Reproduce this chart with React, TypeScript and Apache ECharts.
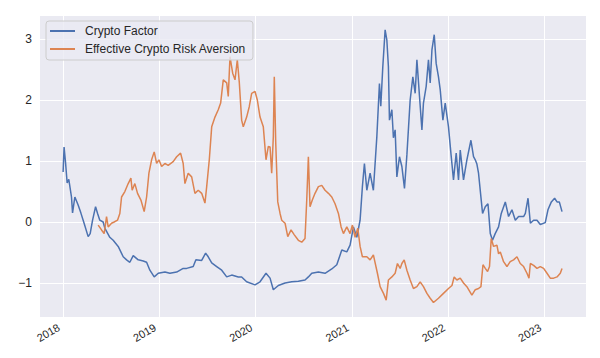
import React, { useEffect, useRef } from 'react';
import * as echarts from 'echarts';

const seriesNames = ['Crypto Factor', 'Effective Crypto Risk Aversion'];
const yearTicks = [2018, 2019, 2020, 2021, 2022, 2023];
const valueTicks = [-1, 0, 1, 2, 3];

const blueYears = [
  2018.0, 2018.01, 2018.025, 2018.042, 2018.059, 2018.087, 2018.098, 2018.122, 2018.156, 2018.184,
  2018.218, 2018.26, 2018.281, 2018.306, 2018.337, 2018.358, 2018.381, 2018.416, 2018.433, 2018.485,
  2018.52, 2018.572, 2018.624, 2018.659, 2018.693, 2018.728, 2018.78, 2018.832, 2018.867, 2018.901,
  2018.946, 2018.988, 2019.057, 2019.109, 2019.179, 2019.247, 2019.283, 2019.351, 2019.379, 2019.439,
  2019.48, 2019.507, 2019.543, 2019.595, 2019.647, 2019.699, 2019.751, 2019.819, 2019.854, 2019.906,
  2019.993, 2020.045, 2020.107, 2020.149, 2020.183, 2020.235, 2020.305, 2020.374, 2020.443, 2020.512,
  2020.547, 2020.582, 2020.651, 2020.72, 2020.79, 2020.842, 2020.894, 2020.946, 2020.98, 2021.015,
  2021.05, 2021.084, 2021.108, 2021.129, 2021.154, 2021.188, 2021.222, 2021.258, 2021.285, 2021.299,
  2021.32, 2021.344, 2021.362, 2021.378, 2021.389, 2021.414, 2021.43, 2021.448, 2021.466, 2021.493,
  2021.518, 2021.545, 2021.57, 2021.604, 2021.632, 2021.656, 2021.674, 2021.701, 2021.726, 2021.742,
  2021.77, 2021.794, 2021.812, 2021.83, 2021.854, 2021.874, 2021.898, 2021.916, 2021.944, 2021.968,
  2022.002, 2022.027, 2022.054, 2022.082, 2022.106, 2022.124, 2022.158, 2022.193, 2022.235, 2022.262,
  2022.28, 2022.297, 2022.314, 2022.342, 2022.356, 2022.384, 2022.412, 2022.436, 2022.459, 2022.487,
  2022.522, 2022.55, 2022.592, 2022.626, 2022.661, 2022.696, 2022.73, 2022.782, 2022.8, 2022.828,
  2022.852, 2022.886, 2022.921, 2022.955, 2023.007, 2023.035, 2023.07, 2023.104, 2023.129, 2023.153,
  2023.181,
];
const blueValues = [
  0.82, 1.23, 0.98, 0.64, 0.7, 0.41, 0.15, 0.41, 0.28, 0.15,
  -0.02, -0.24, -0.19, 0.03, 0.25, 0.14, 0.03, 0.0, -0.1, -0.25,
  -0.3, -0.4, -0.57, -0.62, -0.66, -0.55, -0.62, -0.64, -0.66, -0.79,
  -0.9, -0.84, -0.82, -0.84, -0.82, -0.76, -0.76, -0.73, -0.62, -0.63,
  -0.51, -0.57, -0.67, -0.73, -0.79, -0.9, -0.87, -0.9, -0.9, -0.98,
  -1.03, -0.98, -0.84, -0.92, -1.11, -1.04, -1.0, -0.98, -0.97, -0.95,
  -0.9, -0.84, -0.82, -0.84, -0.77, -0.7, -0.46, -0.49, -0.38, -0.08,
  -0.25, 0.03, 0.58, 0.96, 0.52, 0.8, 0.52, 1.4, 2.27, 1.9,
  2.55, 3.15, 2.98, 2.55, 1.67, 1.84, 1.38, 1.51, 0.74, 1.07,
  0.91, 0.55, 1.1, 2.0, 2.38, 2.11, 2.66, 2.06, 1.51, 1.95,
  2.22, 2.66, 2.28, 2.82, 3.07, 2.6, 2.38, 2.17, 1.67, 1.95,
  1.56, 1.13, 0.69, 1.13, 0.69, 1.18, 0.69, 1.02, 1.34, 1.07,
  1.02, 0.95, 0.8, 0.36, 0.14, 0.25, 0.3, -0.19, -0.3, -0.19,
  -0.08, 0.14, 0.33, 0.09, 0.2, 0.03, 0.09, 0.09, 0.14, 0.39,
  -0.02, 0.03, 0.03, -0.04, -0.01, 0.2, 0.33, 0.39, 0.33, 0.33,
  0.17,
];

const orangeYears = [
  2018.364, 2018.399, 2018.426, 2018.451, 2018.468, 2018.503, 2018.53, 2018.565, 2018.589, 2018.607,
  2018.641, 2018.676, 2018.704, 2018.717, 2018.745, 2018.773, 2018.808, 2018.842, 2018.867, 2018.891,
  2018.919, 2018.946, 2018.971, 2018.995, 2019.023, 2019.057, 2019.091, 2019.143, 2019.179, 2019.22,
  2019.247, 2019.265, 2019.299, 2019.335, 2019.369, 2019.403, 2019.439, 2019.473, 2019.491, 2019.518,
  2019.543, 2019.577, 2019.611, 2019.636, 2019.663, 2019.699, 2019.715, 2019.733, 2019.761, 2019.785,
  2019.809, 2019.83, 2019.854, 2019.871, 2019.906, 2019.933, 2019.958, 2019.993, 2020.017, 2020.045,
  2020.079, 2020.107, 2020.131, 2020.149, 2020.166, 2020.183, 2020.193, 2020.208, 2020.229, 2020.253,
  2020.27, 2020.305, 2020.333, 2020.367, 2020.401, 2020.443, 2020.478, 2020.512, 2020.53, 2020.547,
  2020.564, 2020.588, 2020.616, 2020.651, 2020.686, 2020.72, 2020.755, 2020.79, 2020.824, 2020.859,
  2020.887, 2020.911, 2020.946, 2020.98, 2021.004, 2021.032, 2021.06, 2021.084, 2021.108, 2021.154,
  2021.188, 2021.222, 2021.264, 2021.292, 2021.327, 2021.355, 2021.378, 2021.414, 2021.448, 2021.472,
  2021.5, 2021.518, 2021.542, 2021.57, 2021.604, 2021.638, 2021.674, 2021.708, 2021.742, 2021.778,
  2021.812, 2021.846, 2021.898, 2021.95, 2022.002, 2022.038, 2022.061, 2022.089, 2022.124, 2022.158,
  2022.193, 2022.245, 2022.28, 2022.314, 2022.339, 2022.36, 2022.384, 2022.408, 2022.428, 2022.446,
  2022.47, 2022.505, 2022.522, 2022.54, 2022.574, 2022.609, 2022.643, 2022.678, 2022.713, 2022.747,
  2022.782, 2022.817, 2022.838, 2022.852, 2022.886, 2022.921, 2022.955, 2022.99, 2023.025, 2023.059,
  2023.094, 2023.129, 2023.163, 2023.181,
];
const orangeValues = [
  -0.05, -0.13, -0.19, 0.09, -0.08, -0.02, 0.0, 0.03, 0.14, 0.41,
  0.5, 0.63, 0.72, 0.52, 0.63, 0.47, 0.36, 0.17, 0.41, 0.8,
  1.02, 1.15, 0.96, 1.02, 0.91, 0.96, 0.93, 0.99, 1.07, 1.13,
  0.96, 0.63, 0.8, 0.74, 0.47, 0.52, 0.47, 0.31, 0.58, 1.02,
  1.56, 1.72, 1.84, 1.95, 2.33, 2.28, 2.06, 2.71, 2.44, 2.33,
  2.66, 2.28, 1.67, 1.56, 1.72, 1.89, 2.11, 2.14, 2.0, 1.72,
  1.56, 1.02, 1.24, 1.23, 0.8, 1.4, 2.38, 1.3, 0.33, 0.14,
  0.03, -0.02, -0.24, -0.13, -0.21, -0.3, -0.33, -0.27, 0.36, 1.07,
  0.25, 0.36, 0.47, 0.58, 0.6, 0.52, 0.47, 0.41, 0.3, 0.14,
  -0.08, -0.19, -0.08, -0.19, -0.05, -0.25, -0.1, -0.4, -0.57, -0.57,
  -0.62, -0.54, -0.84, -1.06, -1.17, -1.28, -0.95, -0.9, -0.84, -0.68,
  -0.76, -0.68, -0.62, -0.79, -0.95, -1.09, -1.06, -0.98, -1.06, -1.17,
  -1.25, -1.32, -1.25, -1.17, -1.09, -1.04, -0.9, -0.95, -0.92, -1.0,
  -1.06, -1.2, -1.11, -1.09, -1.06, -0.7, -0.76, -0.81, -0.73, -0.27,
  -0.4, -0.38, -0.52, -0.49, -0.65, -0.73, -0.65, -0.62, -0.57, -0.68,
  -0.73, -0.84, -0.92, -0.68, -0.71, -0.76, -0.73, -0.76, -0.84, -0.92,
  -0.92, -0.9, -0.84, -0.76,
];

const BLUE = '#4C72B0';
const ORANGE = '#DD8452';
const FONT = "'Liberation Sans', Arial, sans-serif";
const TEXT = '#262626';

export default function App() {
  const ref = useRef<HTMLDivElement>(null);
  useEffect(() => {
    const chart = echarts.init(ref.current!, null, { renderer: 'svg' });
    const fmtY = (v: number) => (v < 0 ? '\u2212' + Math.abs(v) : String(v));
    chart.setOption({
      animation: false,
      backgroundColor: '#ffffff',
      textStyle: { fontFamily: FONT },
      grid: {
        left: 40,
        right: 14,
        top: 16,
        bottom: 41,
        show: true,
        backgroundColor: '#EAEAF2',
        borderWidth: 0,
      },
      legend: {
        orient: 'vertical',
        left: 46,
        top: 21,
        padding: [3, 7, 4, 4],
        itemGap: 4,
        itemWidth: 25,
        itemHeight: 2,
        icon: 'rect',
        backgroundColor: 'rgba(234,234,242,0.8)',
        borderColor: '#cccccc',
        borderWidth: 1,
        borderRadius: 3,
        data: seriesNames,
        textStyle: {
          fontFamily: FONT,
          fontSize: 12,
          color: TEXT,
          padding: [0, 0, 0, 5],
          lineHeight: 14,
        },
      },
      xAxis: {
        type: 'value',
        min: 2017.76,
        max: 2023.43,
        axisLine: { show: false },
        axisTick: { show: false, customValues: yearTicks },
        axisLabel: {
          customValues: yearTicks,
          rotate: 30,
          margin: 7,
          padding: [0, 5, 0, 0],
          fontFamily: FONT,
          fontSize: 11,
          color: TEXT,
          formatter: (v: number) => String(Math.round(v)),
        },
        splitLine: { show: true, lineStyle: { color: '#ffffff', width: 1 } },
      },
      yAxis: {
        type: 'value',
        min: -1.557,
        max: 3.377,
        axisLine: { show: false },
        axisTick: { show: false, customValues: valueTicks },
        axisLabel: {
          customValues: valueTicks,
          margin: 8,
          fontFamily: FONT,
          fontSize: 12,
          color: TEXT,
          formatter: fmtY,
        },
        splitLine: { show: true, lineStyle: { color: '#ffffff', width: 1 } },
      },
      series: [
        {
          name: seriesNames[0],
          type: 'line',
          data: blueYears.map((x, i) => [x, blueValues[i]]),
          symbol: 'none',
          lineStyle: { color: BLUE, width: 1.5 },
          itemStyle: { color: BLUE },
        },
        {
          name: seriesNames[1],
          type: 'line',
          data: orangeYears.map((x, i) => [x, orangeValues[i]]),
          symbol: 'none',
          lineStyle: { color: ORANGE, width: 1.5 },
          itemStyle: { color: ORANGE },
        },
      ],
    });
    return () => chart.dispose();
  }, []);
  return (
    <div
      ref={ref}
      style={{ position: 'fixed', left: 0, top: 0, width: 600, height: 358 }}
    />
  );
}
